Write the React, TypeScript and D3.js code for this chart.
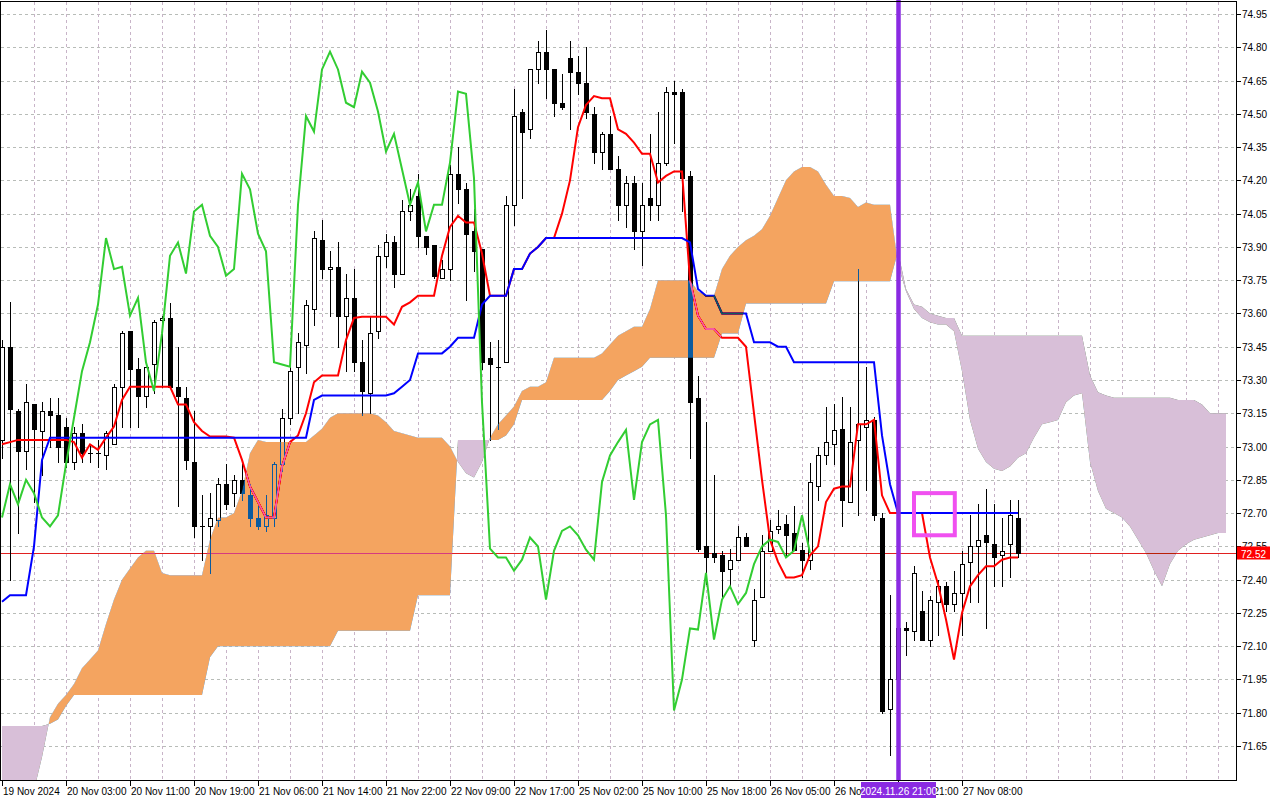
import React from 'react';
import * as d3 from 'd3';

// H1 candles, 19 Nov 19:00 .. 27 Nov (128 bars)
const openP = [
  73.03, 73.45, 73.16, 72.98, 73.19, 73.07, 73.16, 73.14, 73.09, 72.93,
  73.06, 72.97, 72.97, 72.96, 73.01, 73.27, 73.52, 73.35, 73.23, 73.37,
  73.57, 73.58, 73.27, 73.22, 72.93, 72.64, 72.64, 72.67, 72.83, 72.79,
  72.85, 72.78, 72.68, 72.64, 72.68, 72.92, 73.13, 73.36, 73.46, 73.62,
  73.93, 73.80, 73.81, 73.59, 73.67, 73.38, 73.24, 73.52, 73.86, 73.92,
  73.78, 74.06, 74.13, 73.95, 73.91, 73.76, 73.80, 74.23, 74.16, 73.97,
  73.89, 73.40, 73.36, 73.38, 74.09, 74.51, 74.43, 74.70, 74.78, 74.70,
  74.55, 74.75, 74.69, 74.64, 74.50, 74.33, 74.41, 74.25, 74.09, 74.19,
  73.97, 74.12, 74.09, 74.28, 74.60, 74.60, 74.22, 73.22, 72.55, 72.52,
  72.51, 72.45, 72.49, 72.59, 72.13, 72.32, 72.53, 72.63, 72.65, 72.61,
  72.535, 72.49, 72.82, 72.96, 73.01, 73.08, 72.75, 73.03, 73.09, 73.12,
  72.68, 71.815, 71.95, 72.18, 72.17, 72.26, 72.13, 72.30, 72.37, 72.29,
  72.34, 72.48, 72.55, 72.60, 72.56, 72.51, 72.56, 72.68,
];
const highP = [
  73.48, 73.65, 73.17, 73.28, 73.19, 73.20, 73.22, 73.22, 73.13, 73.09,
  73.10, 73.01, 73.03, 73.07, 73.28, 73.52, 73.52, 73.40, 73.36, 73.57,
  73.59, 73.645, 73.45, 73.27, 73.16, 72.78, 72.79, 72.86, 72.92, 72.87,
  72.92, 72.83, 72.73, 72.78, 72.93, 73.17, 73.36, 73.51, 73.66, 73.97,
  74.02, 73.88, 73.92, 73.78, 73.80, 73.48, 73.59, 73.91, 73.96, 73.95,
  74.11, 74.16, 74.23, 73.95, 73.91, 73.84, 74.27, 74.35, 74.19, 74.07,
  73.89, 73.47, 73.48, 74.13, 74.61, 74.52, 74.70, 74.83, 74.88, 74.70,
  74.68, 74.83, 74.76, 74.80, 74.53, 74.42, 74.49, 74.31, 74.22, 74.22,
  74.19, 74.41, 74.51, 74.62, 74.65, 74.61, 74.24, 73.32, 73.11, 72.87,
  72.53, 72.54, 72.64, 72.61, 72.36, 72.60, 72.67, 72.715, 72.69, 72.73,
  72.565, 72.925, 73.00, 73.18, 73.19, 73.225, 73.18, 73.80, 73.36, 73.135,
  72.70, 72.33, 72.25, 72.21, 72.46, 72.35, 72.325, 72.40, 72.39, 72.44,
  72.53, 72.69, 72.74, 72.81, 72.74, 72.68, 72.76, 72.76,
];
const lowP = [
  72.95, 72.40, 72.61, 72.90, 72.75, 72.87, 73.00, 72.93, 72.91, 72.90,
  72.93, 72.93, 72.91, 72.90, 73.01, 73.09, 73.09, 73.09, 73.18, 73.24,
  73.27, 73.27, 72.73, 72.90, 72.59, 72.49, 72.43, 72.64, 72.72, 72.73,
  72.76, 72.64, 72.63, 72.62, 72.64, 72.89, 73.10, 73.15, 73.33, 73.55,
  73.76, 73.59, 73.45, 73.34, 73.34, 73.14, 73.15, 73.49, 73.81, 73.72,
  73.78, 74.02, 73.90, 73.87, 73.76, 73.76, 73.75, 74.10, 73.66, 73.79,
  73.35, 73.03, 73.08, 73.38, 74.00, 74.12, 74.39, 74.64, 74.57, 74.49,
  74.52, 74.43, 74.59, 74.48, 74.28, 74.25, 74.25, 74.02, 73.99, 73.89,
  73.82, 74.02, 74.02, 74.27, 74.37, 74.06, 72.95, 72.53, 72.38, 72.48,
  72.32, 72.37, 72.49, 72.55, 72.10, 72.32, 72.53, 72.61, 72.51, 72.535,
  72.41, 72.45, 72.76, 72.92, 72.92, 72.64, 72.75, 72.69, 72.805, 72.67,
  71.80, 71.61, 71.90, 72.06, 72.13, 72.13, 72.10, 72.15, 72.26, 72.26,
  72.15, 72.30, 72.30, 72.18, 72.37, 72.37, 72.41, 72.50,
];
const closeP = [
  73.45, 73.17, 72.98, 73.20, 73.08, 73.16, 73.14, 73.00, 72.93, 73.06,
  72.97, 72.97, 72.97, 73.06, 73.27, 73.51, 73.35, 73.23, 73.36, 73.56,
  73.58, 73.27, 73.23, 72.94, 72.64, 72.64, 72.68, 72.83, 72.74, 72.85,
  72.79, 72.68, 72.64, 72.69, 72.92, 73.13, 73.34, 73.47, 73.64, 73.94,
  73.80, 73.81, 73.59, 73.67, 73.38, 73.25, 73.51, 73.86, 73.92, 73.78,
  74.06, 74.09, 73.95, 73.90, 73.77, 73.80, 74.23, 74.16, 73.96, 73.88,
  73.38, 73.37, 73.36, 74.09, 74.49, 74.42, 74.70, 74.78, 74.70, 74.55,
  74.53, 74.69, 74.64, 74.51, 74.33, 74.41, 74.25, 74.09, 74.19, 73.97,
  74.09, 74.09, 74.28, 74.60, 74.59, 74.21, 73.20, 72.54, 72.50, 72.50,
  72.44, 72.49, 72.59, 72.55, 72.31, 72.53, 72.62, 72.64, 72.60, 72.535,
  72.49, 72.84, 72.96, 73.02, 73.075, 72.76, 73.02, 73.10, 73.12, 72.69,
  71.81, 71.95, 72.18, 72.175, 72.43, 72.13, 72.31, 72.37, 72.29, 72.34,
  72.47, 72.55, 72.58, 72.57, 72.50, 72.53, 72.69, 72.52,
];

// Ichimoku lines
const tenkan = [
  73.01, 73.02, 73.03, 73.03, 73.03, 73.03, 73.03, 73.03, 73.03, 73.02,
  72.95, 73.01, 72.985, 73.04, 73.09, 73.21, 73.27, 73.27, 73.27, 73.27,
  73.27, 73.27, 73.19, 73.19, 73.11, 73.07, 73.045, 73.045, 73.045, 73.04,
  72.94, 72.82, 72.75, 72.68, 72.68, 72.91, 73.02, 73.05, 73.15, 73.29,
  73.32, 73.32, 73.32, 73.48, 73.58, 73.585, 73.585, 73.585, 73.585, 73.55,
  73.63, 73.65, 73.68, 73.68, 73.68, 73.86, 73.99, 74.04, 74.01, 74.01,
  73.87, 73.68, 73.68, 73.68, 73.80, 73.80, 73.87, 73.90, 73.94, 73.94,
  74.05, 74.20, 74.44, 74.54, 74.58, 74.57, 74.57, 74.43, 74.41, 74.37,
  74.32, 74.32, 74.19, 74.22, 74.24, 74.24, 73.75, 73.59, 73.53, 73.53,
  73.49, 73.49, 73.49, 73.45, 73.15, 72.85, 72.58, 72.48, 72.41, 72.41,
  72.42, 72.51, 72.55, 72.75, 72.81, 72.82, 72.82, 73.10, 73.10, 73.12,
  72.78, 72.70, 72.70, 72.70, 72.70, 72.70, 72.50, 72.38, 72.22, 72.04,
  72.25, 72.37, 72.42, 72.46, 72.46, 72.49, 72.50, 72.50,
];
const kijun = [
  72.30, 72.33, 72.33, 72.33, 72.55, 72.94, 73.04, 73.04, 73.04, 73.04,
  73.04, 73.04, 73.04, 73.04, 73.04, 73.04, 73.04, 73.04, 73.04, 73.04,
  73.04, 73.04, 73.04, 73.04, 73.04, 73.04, 73.04, 73.04, 73.04, 73.04,
  73.04, 73.04, 73.04, 73.04, 73.04, 73.04, 73.04, 73.04, 73.04, 73.21,
  73.23, 73.23, 73.23, 73.23, 73.23, 73.23, 73.23, 73.23, 73.23, 73.24,
  73.27, 73.30, 73.42, 73.42, 73.42, 73.42, 73.45, 73.49, 73.49, 73.49,
  73.64, 73.68, 73.68, 73.68, 73.80, 73.80, 73.87, 73.90, 73.94, 73.94,
  73.94, 73.94, 73.94, 73.94, 73.94, 73.94, 73.94, 73.94, 73.94, 73.94,
  73.94, 73.94, 73.94, 73.94, 73.94, 73.94, 73.92, 73.71, 73.68, 73.68,
  73.60, 73.60, 73.60, 73.60, 73.47, 73.47, 73.47, 73.45, 73.45, 73.38,
  73.38, 73.38, 73.38, 73.38, 73.38, 73.38, 73.38, 73.38, 73.38, 73.38,
  73.05, 72.83, 72.70, 72.70, 72.70, 72.70, 72.70, 72.70, 72.70, 72.70,
  72.70, 72.70, 72.70, 72.70, 72.70, 72.70, 72.70, 72.70,
];
// Senkou spans, 154 bars (26 ahead of the last candle)
const spanA = [
  71.35, 71.35, 71.35, 71.38, 71.45, 71.60, 71.78, 71.84, 71.88, 71.93,
  72.00, 72.04, 72.08, 72.20, 72.31, 72.40, 72.45, 72.50, 72.53, 72.53,
  72.43, 72.42, 72.42, 72.42, 72.42, 72.42, 72.58, 72.68, 72.68, 72.70,
  72.80, 72.97, 73.03, 73.02, 73.02, 73.02, 73.02, 73.02, 73.02, 73.05,
  73.08, 73.13, 73.15, 73.15, 73.15, 73.15, 73.15, 73.14, 73.11, 73.07,
  73.06, 73.05, 73.04, 73.04, 73.04, 73.04, 73.00, 72.93, 72.88, 72.86,
  72.93, 73.04, 73.10, 73.14, 73.18, 73.25, 73.27, 73.27, 73.29, 73.40,
  73.40, 73.40, 73.40, 73.40, 73.40, 73.42, 73.46, 73.50, 73.52, 73.54,
  73.54, 73.62, 73.75, 73.75, 73.75, 73.75, 73.75, 73.70, 73.68, 73.68,
  73.80, 73.86, 73.90, 73.93, 73.95, 73.98, 74.04, 74.12, 74.20, 74.24,
  74.26, 74.26, 74.24, 74.18, 74.13, 74.13, 74.12, 74.08, 74.10, 74.09,
  74.09, 74.09, 73.82, 73.70, 73.62, 73.58, 73.56, 73.55, 73.55, 73.52,
  73.34, 73.12, 72.99, 72.93, 72.90, 72.89, 72.91, 72.95, 72.97, 73.04,
  73.10, 73.11, 73.12, 73.20, 73.23, 73.24, 72.93, 72.80, 72.72, 72.70,
  72.68, 72.64, 72.58, 72.52, 72.44, 72.37, 72.47, 72.53, 72.56, 72.58,
  72.59, 72.60, 72.61, 72.61,
];
const spanB = [
  71.74, 71.74, 71.74, 71.74, 71.74, 71.74, 71.75, 71.77, 71.83, 71.88,
  71.88, 71.88, 71.88, 71.88, 71.88, 71.88, 71.88, 71.88, 71.88, 71.88,
  71.88, 71.88, 71.88, 71.88, 71.88, 71.88, 72.05, 72.10, 72.10, 72.10,
  72.10, 72.10, 72.10, 72.10, 72.10, 72.10, 72.10, 72.10, 72.10, 72.10,
  72.10, 72.10, 72.17, 72.17, 72.17, 72.17, 72.17, 72.17, 72.17, 72.17,
  72.17, 72.17, 72.33, 72.33, 72.33, 72.33, 72.33, 73.03, 73.03, 73.03,
  73.03, 73.03, 73.03, 73.05, 73.10, 73.21, 73.21, 73.21, 73.21, 73.21,
  73.21, 73.21, 73.21, 73.21, 73.21, 73.21, 73.25, 73.30, 73.32, 73.34,
  73.36, 73.40, 73.40, 73.40, 73.40, 73.40, 73.40, 73.40, 73.40, 73.40,
  73.51, 73.51, 73.51, 73.645, 73.645, 73.645, 73.645, 73.645, 73.645, 73.645,
  73.645, 73.645, 73.645, 73.645, 73.745, 73.745, 73.745, 73.745, 73.745, 73.745,
  73.745, 73.745, 73.88, 73.71, 73.64, 73.63, 73.60, 73.59, 73.58, 73.58,
  73.50, 73.50, 73.50, 73.50, 73.50, 73.50, 73.50, 73.50, 73.50, 73.50,
  73.50, 73.50, 73.50, 73.50, 73.50, 73.50, 73.32, 73.245, 73.23, 73.22,
  73.22, 73.22, 73.22, 73.22, 73.22, 73.22, 73.22, 73.21, 73.21, 73.21,
  73.19, 73.15, 73.15, 73.15,
];

const dateLabels = [
  '19 Nov 2024', '20 Nov 03:00', '20 Nov 11:00', '20 Nov 19:00',
  '21 Nov 06:00', '21 Nov 14:00', '21 Nov 22:00', '22 Nov 09:00',
  '22 Nov 17:00', '25 Nov 02:00', '25 Nov 10:00', '25 Nov 18:00',
  '26 Nov 05:00', '26 Nov 13:00', '26 Nov 21:00', '27 Nov 08:00',
];
const priceTicks = [
  71.65, 71.8, 71.95, 72.1, 72.25, 72.4, 72.55, 72.7, 72.85, 73.0, 73.15, 73.3,
  73.45, 73.6, 73.75, 73.9, 74.05, 74.2, 74.35, 74.5, 74.65, 74.8, 74.95,
];
const lastPrice = 72.52;
const markerBar = 112;
const markerText = '2024.11.26 21:00';
const boxMark = { from: 114, to: 119.1, hi: 72.79, lo: 72.6 };

const PR = 1236; // plot right
const PB = 780; // plot bottom
const FONT = '"Liberation Sans", Arial, sans-serif';

export default function App() {
  const x = d3.scaleLinear().domain([0, 153]).range([2, 1226]);
  const y = d3.scaleLinear().domain([71.65, 74.95]).range([746, 14]);

  const line = d3
    .line<number>()
    .x((_, i) => x(i))
    .y((d) => y(d));

  // chikou = close shifted back 26 bars
  const chikou = closeP.slice(26);

  const band = d3
    .area<number>()
    .x((_, i) => x(i))
    .y0((_, i) => y(spanB[i]))
    .y1((d) => y(d))(spanA);
  const aboveA = d3
    .area<number>()
    .x((_, i) => x(i))
    .y0(0)
    .y1((d) => y(d))(spanA);
  const belowA = d3
    .area<number>()
    .x((_, i) => x(i))
    .y0(PB)
    .y1((d) => y(d))(spanA);

  const vGrid = d3.range(4, 153, 4);
  const priceY = Math.round(y(lastPrice)) + 0.5;
  const mx = Math.round(x(markerBar));

  return (
    <div style={{ position: 'absolute', left: 0, top: 0 }}>
      <svg width={1280} height={800} style={{ display: 'block', isolation: 'isolate' }}>
        <defs>
          <clipPath id="plot">
            <rect x={0} y={0} width={PR} height={PB} />
          </clipPath>
          <clipPath id="aboveA">
            <path d={aboveA || ''} />
          </clipPath>
          <clipPath id="belowA">
            <path d={belowA || ''} />
          </clipPath>
        </defs>
        <rect x={0} y={0} width={1280} height={800} fill="#fff" />

        {/* grid */}
        <g strokeDasharray="3,3" strokeWidth={1}>
          {priceTicks.map((p) => (
            <line key={p} x1={1} x2={PR} y1={Math.round(y(p)) + 0.5} y2={Math.round(y(p)) + 0.5} stroke="#b8bcb8" />
          ))}
          {vGrid.map((b) => (
            <line key={b} x1={x(b) + 0.5} x2={x(b) + 0.5} y1={2} y2={PB} stroke="#c8b4c8" />
          ))}
        </g>

        <g clipPath="url(#plot)">
          <rect x={0} y={0} width={PR} height={PB} fill="none" />
          {/* erase grid under the cloud */}
          <path d={band || ''} fill="#fff" />

          <line x1={0} x2={PR} y1={priceY} y2={priceY} stroke="#e02020" strokeWidth={1} />

          {/* candles */}
          {closeP.map((c, i) => {
            const o = openP[i];
            const cx = Math.round(x(i));
            const top = Math.round(y(Math.max(o, c)));
            const bot = Math.round(y(Math.min(o, c)));
            const up = c >= o;
            return (
              <g key={i}>
                <line
                  x1={cx + 0.5}
                  x2={cx + 0.5}
                  y1={Math.round(y(highP[i]))}
                  y2={Math.round(y(lowP[i])) + 1}
                  stroke="#000"
                />
                {bot - top < 1 ? (
                  <line x1={cx - 2} x2={cx + 3} y1={top + 0.5} y2={top + 0.5} stroke="#000" />
                ) : (
                  <rect
                    x={cx - 1.5}
                    y={top + 0.5}
                    width={4}
                    height={bot - top}
                    fill={up ? '#fff' : '#000'}
                    stroke="#000"
                  />
                )}
              </g>
            );
          })}

          <path d={line(tenkan) || ''} fill="none" stroke="#ff0000" strokeWidth={2} />
          <path d={line(kijun) || ''} fill="none" stroke="#0000ff" strokeWidth={2} />

          {/* kumo, drawn as an inverting layer like the terminal does */}
          <g clipPath="url(#belowA)" style={{ mixBlendMode: 'difference' }}>
            <path d={band || ''} fill="rgb(11,91,159)" />
          </g>
          <g clipPath="url(#aboveA)" style={{ mixBlendMode: 'difference' }}>
            <path d={band || ''} fill="rgb(39,64,39)" />
          </g>

          <path d={line(chikou) || ''} fill="none" stroke="#32cd32" strokeWidth={2} />

          <line x1={mx + 0.5} x2={mx + 0.5} y1={0} y2={PB} stroke="#8a2be2" strokeWidth={4.5} />

          <rect
            x={x(boxMark.from)}
            y={y(boxMark.hi)}
            width={x(boxMark.to) - x(boxMark.from)}
            height={y(boxMark.lo) - y(boxMark.hi)}
            fill="none"
            stroke="#f050f0"
            strokeWidth={4}
          />
        </g>

        {/* frame */}
        <rect x={0.5} y={1.5} width={PR} height={PB - 1} fill="none" stroke="#000" />

        {/* price axis */}
        <g fontFamily={FONT} fontSize={10} fill="#000">
          {priceTicks.map((p) => (
            <g key={p}>
              <line x1={PR} x2={PR + 5} y1={Math.round(y(p)) + 0.5} y2={Math.round(y(p)) + 0.5} stroke="#000" />
              <text x={PR + 6} y={Math.round(y(p)) + 4}>
                {p.toFixed(2)}
              </text>
            </g>
          ))}
          <rect x={PR + 1} y={priceY - 7} width={33} height={13} fill="#ff0000" />
          <text x={PR + 5} y={priceY + 4} fill="#fff">
            {lastPrice.toFixed(2)}
          </text>
        </g>

        {/* time axis */}
        <g fontFamily={FONT} fontSize={10} fill="#000">
          {dateLabels.map((t, i) => {
            const tx = Math.round(x(i * 8));
            return (
              <g key={t}>
                <line x1={tx + 0.5} x2={tx + 0.5} y1={PB} y2={PB + 6} stroke="#000" />
                <text x={tx + 1} y={795}>
                  {t}
                </text>
              </g>
            );
          })}
          <rect x={mx - 37} y={782} width={75} height={16} fill="#8a2be2" />
          <text x={mx + 0.5} y={795} fill="#fff" textAnchor="middle">
            {markerText}
          </text>
        </g>
      </svg>
    </div>
  );
}
